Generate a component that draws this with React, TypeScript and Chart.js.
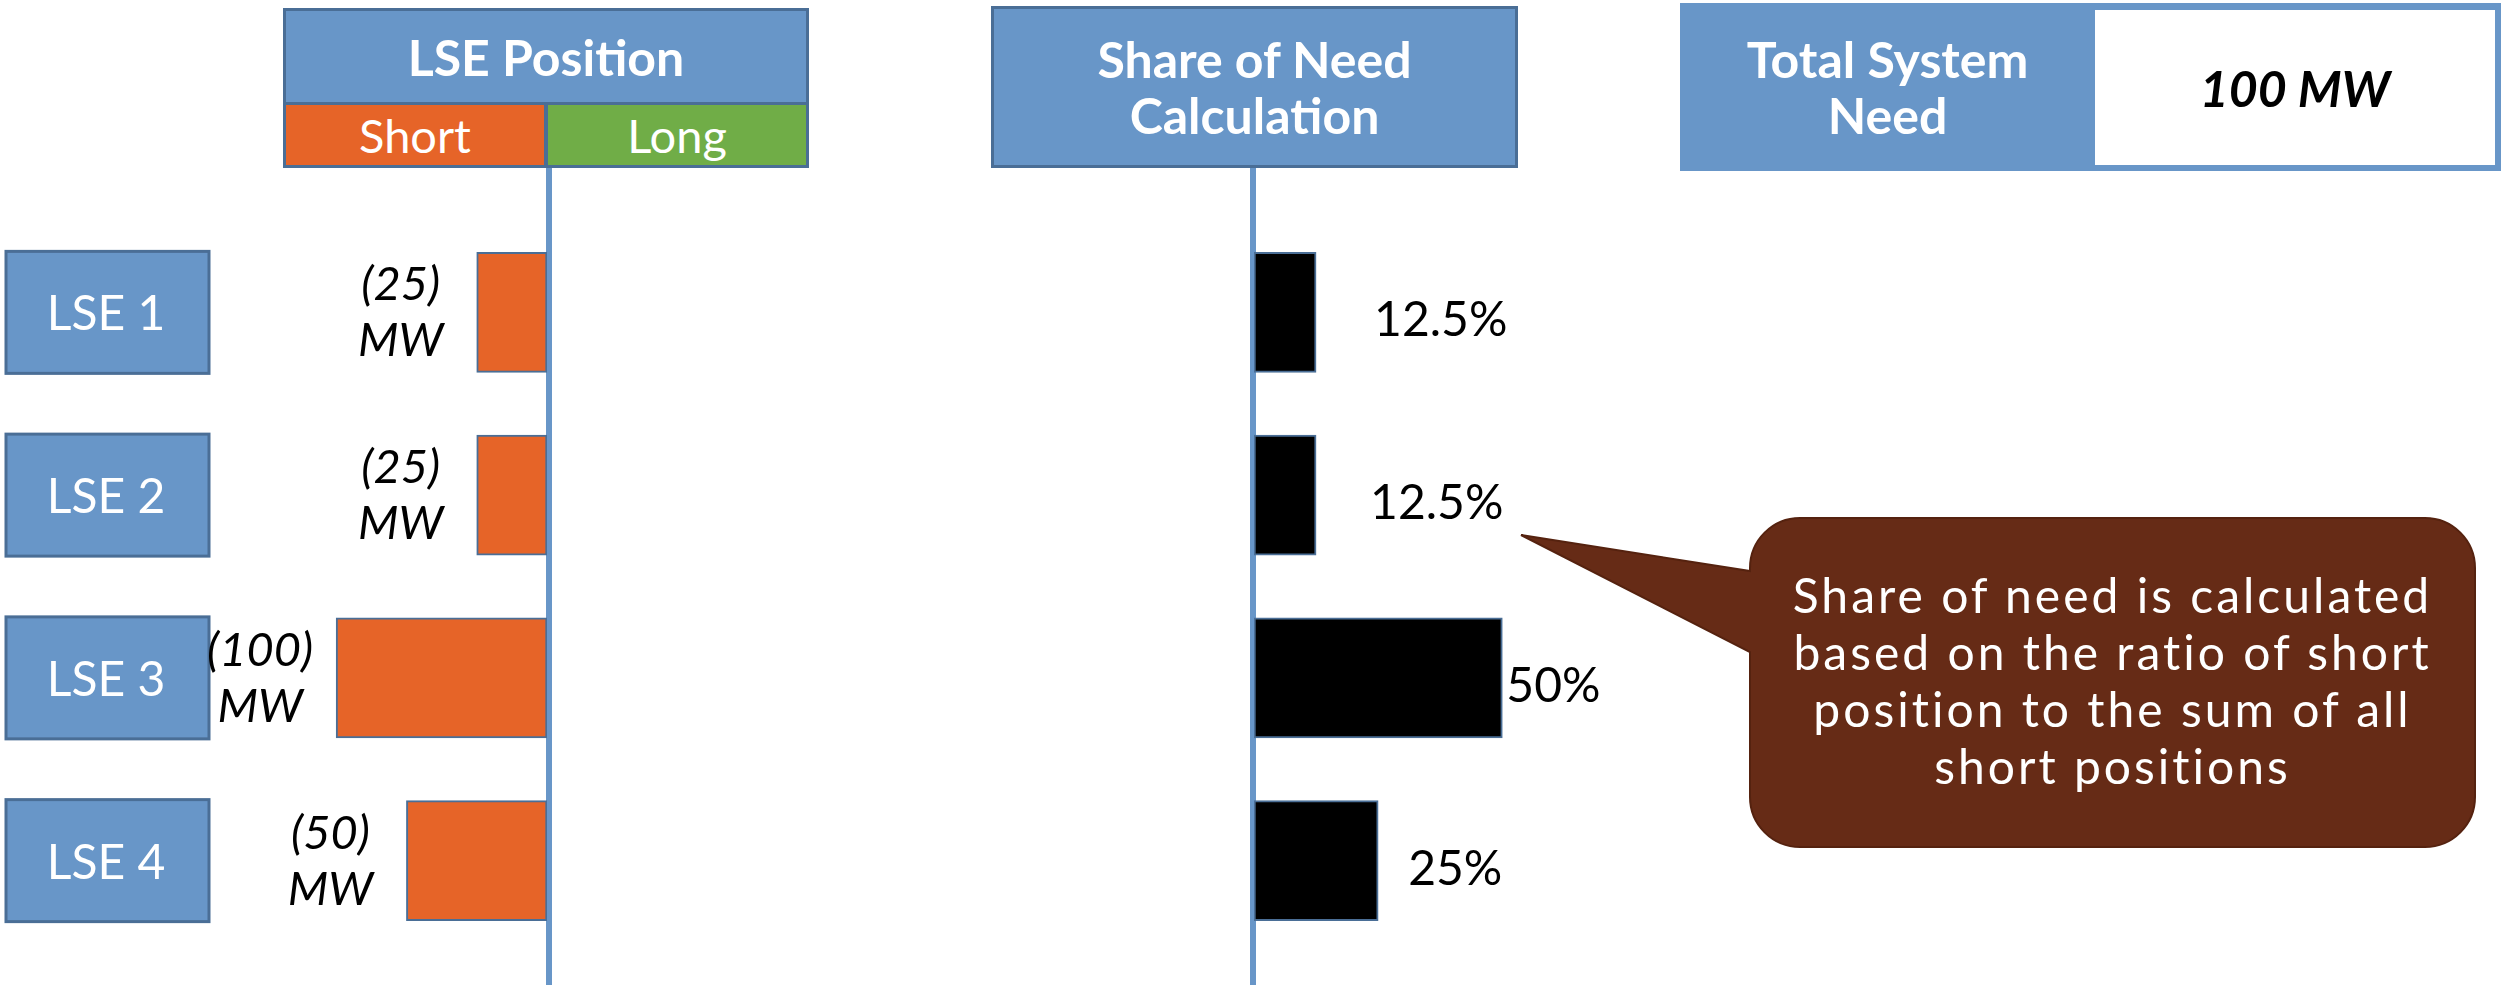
import React, { useEffect, useRef } from "react";
import { Chart, registerables } from "chart.js";

Chart.register(...registerables);

// ---------------- data ----------------
const lseNames = ["LSE 1", "LSE 2", "LSE 3", "LSE 4"];
const shortPositionMW = [25, 25, 100, 50];
const shortPositionLabels = ["(25)", "(25)", "(100)", "(50)"];
const positionUnit = "MW";
const shareOfNeedPct = [12.5, 12.5, 50, 25];
const shareOfNeedLabels = ["12.5%", "12.5%", "50%", "25%"];
const positionSides = ["Short", "Long"];
const panelTitles = ["LSE Position", "Share of Need Calculation"];
const totalSystemNeedTitle = "Total System Need";
const totalSystemNeedValue = "100 MW";
const calloutLines = [
  "Share of need is calculated",
  "based on the ratio of short",
  "position to the sum of all",
  "short positions",
];

// ---------------- styles ----------------
const BLUE = "#6896C8";
const BLUE_BORDER = "#4A6E96";
const ORANGE = "#E66428";
const GREEN = "#70AD47";
const BROWN = "#662B16";
const BROWN_BORDER = "#55220F";
const FONT = "Lato, 'DejaVu Sans', sans-serif";
const shareLabelGap = [58, 54, 4, 30];

const leftDecor = {
  id: "leftDecor",
  beforeDatasetsDraw(chart: any) {
    const { ctx, chartArea, scales } = chart;
    ctx.save();
    ctx.fillStyle = BLUE;
    ctx.fillRect(chartArea.right - 1, 167, 6, chart.height - 167);
    lseNames.forEach((name, i) => {
      const cy = scales.y.getPixelForValue(i);
      ctx.fillStyle = BLUE;
      ctx.fillRect(6, cy - 61, 203, 122);
      ctx.strokeStyle = BLUE_BORDER;
      ctx.lineWidth = 3;
      ctx.strokeRect(6, cy - 61, 203, 122);
      ctx.fillStyle = "#ffffff";
      ctx.font = `48px ${FONT}`;
      ctx.textAlign = "center";
      ctx.textBaseline = "alphabetic";
      ctx.fillText(name, 106, cy + 18);
    });
    ctx.restore();
  },
  afterDatasetsDraw(chart: any) {
    const { ctx } = chart;
    const meta = chart.getDatasetMeta(0);
    ctx.save();
    ctx.fillStyle = "#000000";
    ctx.font = `italic 47px ${FONT}`;
    ctx.textAlign = "center";
    ctx.textBaseline = "alphabetic";
    meta.data.forEach((bar: any, i: number) => {
      const x = bar.x - 76;
      ctx.fillText(shortPositionLabels[i], x, bar.y - 12);
      ctx.fillText(positionUnit, x, bar.y + 44);
    });
    ctx.restore();
  },
};

const rightDecor = {
  id: "rightDecor",
  beforeDatasetsDraw(chart: any) {
    const { ctx, scales } = chart;
    const x0 = scales.x.getPixelForValue(0);
    ctx.save();
    ctx.fillStyle = BLUE;
    ctx.fillRect(x0 - 4, 168, 6, chart.height - 168);
    ctx.restore();
  },
  afterDatasetsDraw(chart: any) {
    const { ctx } = chart;
    const meta = chart.getDatasetMeta(0);
    ctx.save();
    ctx.fillStyle = "#000000";
    ctx.font = `48px ${FONT}`;
    ctx.textAlign = "left";
    ctx.textBaseline = "alphabetic";
    meta.data.forEach((bar: any, i: number) => {
      ctx.fillText(shareOfNeedLabels[i], bar.x + shareLabelGap[i], bar.y + 24);
    });
    ctx.restore();
  },
};

const abs = (l: number, t: number, w: number, h: number): React.CSSProperties => ({
  position: "absolute",
  left: l,
  top: t,
  width: w,
  height: h,
  boxSizing: "border-box",
});

const centerText: React.CSSProperties = {
  display: "flex",
  alignItems: "center",
  justifyContent: "center",
  textAlign: "center",
  color: "#ffffff",
  fontFamily: FONT,
};

export default function App() {
  const leftRef = useRef<HTMLCanvasElement | null>(null);
  const rightRef = useRef<HTMLCanvasElement | null>(null);

  useEffect(() => {
    const left = new Chart(leftRef.current as HTMLCanvasElement, {
      type: "bar",
      data: {
        labels: lseNames,
        datasets: [
          {
            data: shortPositionMW,
            backgroundColor: ORANGE,
            borderColor: BLUE_BORDER,
            borderWidth: 2,
            borderSkipped: false,
            barThickness: 120,
          },
        ],
      },
      options: {
        indexAxis: "y",
        responsive: false,
        maintainAspectRatio: false,
        animation: false,
        layout: { padding: { left: 295, right: 53, top: 221, bottom: 33 } },
        scales: {
          x: { type: "logarithmic", reverse: true, min: 12.5, max: 150, display: false },
          y: { type: "category", display: false, offset: true },
        },
        plugins: { legend: { display: false }, tooltip: { enabled: false } },
      },
      plugins: [leftDecor],
    } as any);

    const right = new Chart(rightRef.current as HTMLCanvasElement, {
      type: "bar",
      data: {
        labels: lseNames,
        datasets: [
          {
            data: shareOfNeedPct,
            backgroundColor: "#000000",
            borderColor: BLUE_BORDER,
            borderWidth: 2,
            borderSkipped: false,
            barThickness: 120,
          },
        ],
      },
      options: {
        indexAxis: "y",
        responsive: false,
        maintainAspectRatio: false,
        animation: false,
        layout: { padding: { left: 154, right: 248, top: 221, bottom: 33 } },
        scales: {
          x: { type: "linear", min: 0, max: 60, display: false },
          y: { type: "category", display: false, offset: true },
        },
        plugins: { legend: { display: false }, tooltip: { enabled: false } },
      },
      plugins: [rightDecor],
    } as any);

    return () => {
      left.destroy();
      right.destroy();
    };
  }, []);

  const [tsnA, tsnB] = ["Total System", "Need"];
  const [shareA, shareB] = ["Share of Need", "Calculation"];

  return (
    <div
      style={{
        position: "fixed",
        left: 0,
        top: 0,
        width: 2501,
        height: 985,
        background: "#ffffff",
        overflow: "hidden",
        fontFamily: FONT,
      }}
    >
      <canvas ref={leftRef} width={600} height={985} style={{ position: "absolute", left: 0, top: 0 }} />
      <canvas ref={rightRef} width={700} height={985} style={{ position: "absolute", left: 1100, top: 0 }} />

      {/* LSE Position header */}
      <div
        style={{
          ...abs(283, 8, 526, 97),
          ...centerText,
          background: BLUE,
          border: `3px solid ${BLUE_BORDER}`,
          fontWeight: 700,
          fontSize: 50,
        }}
      >
        {panelTitles[0]}
      </div>
      <div
        style={{
          ...abs(283, 102, 264, 66),
          ...centerText,
          background: ORANGE,
          border: `3px solid ${BLUE_BORDER}`,
          fontSize: 47,
        }}
      >
        {positionSides[0]}
      </div>
      <div
        style={{
          ...abs(545, 102, 264, 66),
          ...centerText,
          background: GREEN,
          border: `3px solid ${BLUE_BORDER}`,
          fontSize: 47,
        }}
      >
        {positionSides[1]}
      </div>

      {/* Share of Need header */}
      <div
        style={{
          ...abs(991, 6, 527, 162),
          ...centerText,
          background: BLUE,
          border: `3px solid ${BLUE_BORDER}`,
          fontWeight: 700,
          fontSize: 50,
          lineHeight: "56px",
          flexDirection: "column",
        }}
        title={panelTitles[1]}
      >
        <span>{shareA}</span>
        <span>{shareB}</span>
      </div>

      {/* Total System Need */}
      <div style={{ ...abs(1680, 3, 821, 168), background: BLUE }} title={totalSystemNeedTitle} />
      <div
        style={{
          ...abs(1680, 3, 415, 168),
          ...centerText,
          fontWeight: 700,
          fontSize: 50,
          lineHeight: "56px",
          flexDirection: "column",
        }}
      >
        <span>{tsnA}</span>
        <span>{tsnB}</span>
      </div>
      <div
        style={{
          ...abs(2095, 10, 400, 155),
          ...centerText,
          background: "#ffffff",
          color: "#000000",
          fontWeight: 700,
          fontStyle: "italic",
          fontSize: 50,
        }}
      >
        {totalSystemNeedValue}
      </div>

      {/* Callout */}
      <svg width={2501} height={985} style={{ position: "absolute", left: 0, top: 0 }}>
        <path
          d="M 1800 518 H 2425 A 50 50 0 0 1 2475 568 V 797 A 50 50 0 0 1 2425 847 H 1800 A 50 50 0 0 1 1750 797 V 652 L 1521 535 L 1750 571 V 568 A 50 50 0 0 1 1800 518 Z"
          fill={BROWN}
          stroke={BROWN_BORDER}
          strokeWidth={2}
        />
      </svg>
      <div
        style={{
          ...abs(1750, 566, 725, 240),
          color: "#ffffff",
          fontFamily: FONT,
          fontSize: 48,
          letterSpacing: "3px",
          lineHeight: "57px",
          textAlign: "center",
          whiteSpace: "nowrap",
        }}
      >
        {calloutLines.map((l, i) => (
          <div key={i}>{l}</div>
        ))}
      </div>
    </div>
  );
}
